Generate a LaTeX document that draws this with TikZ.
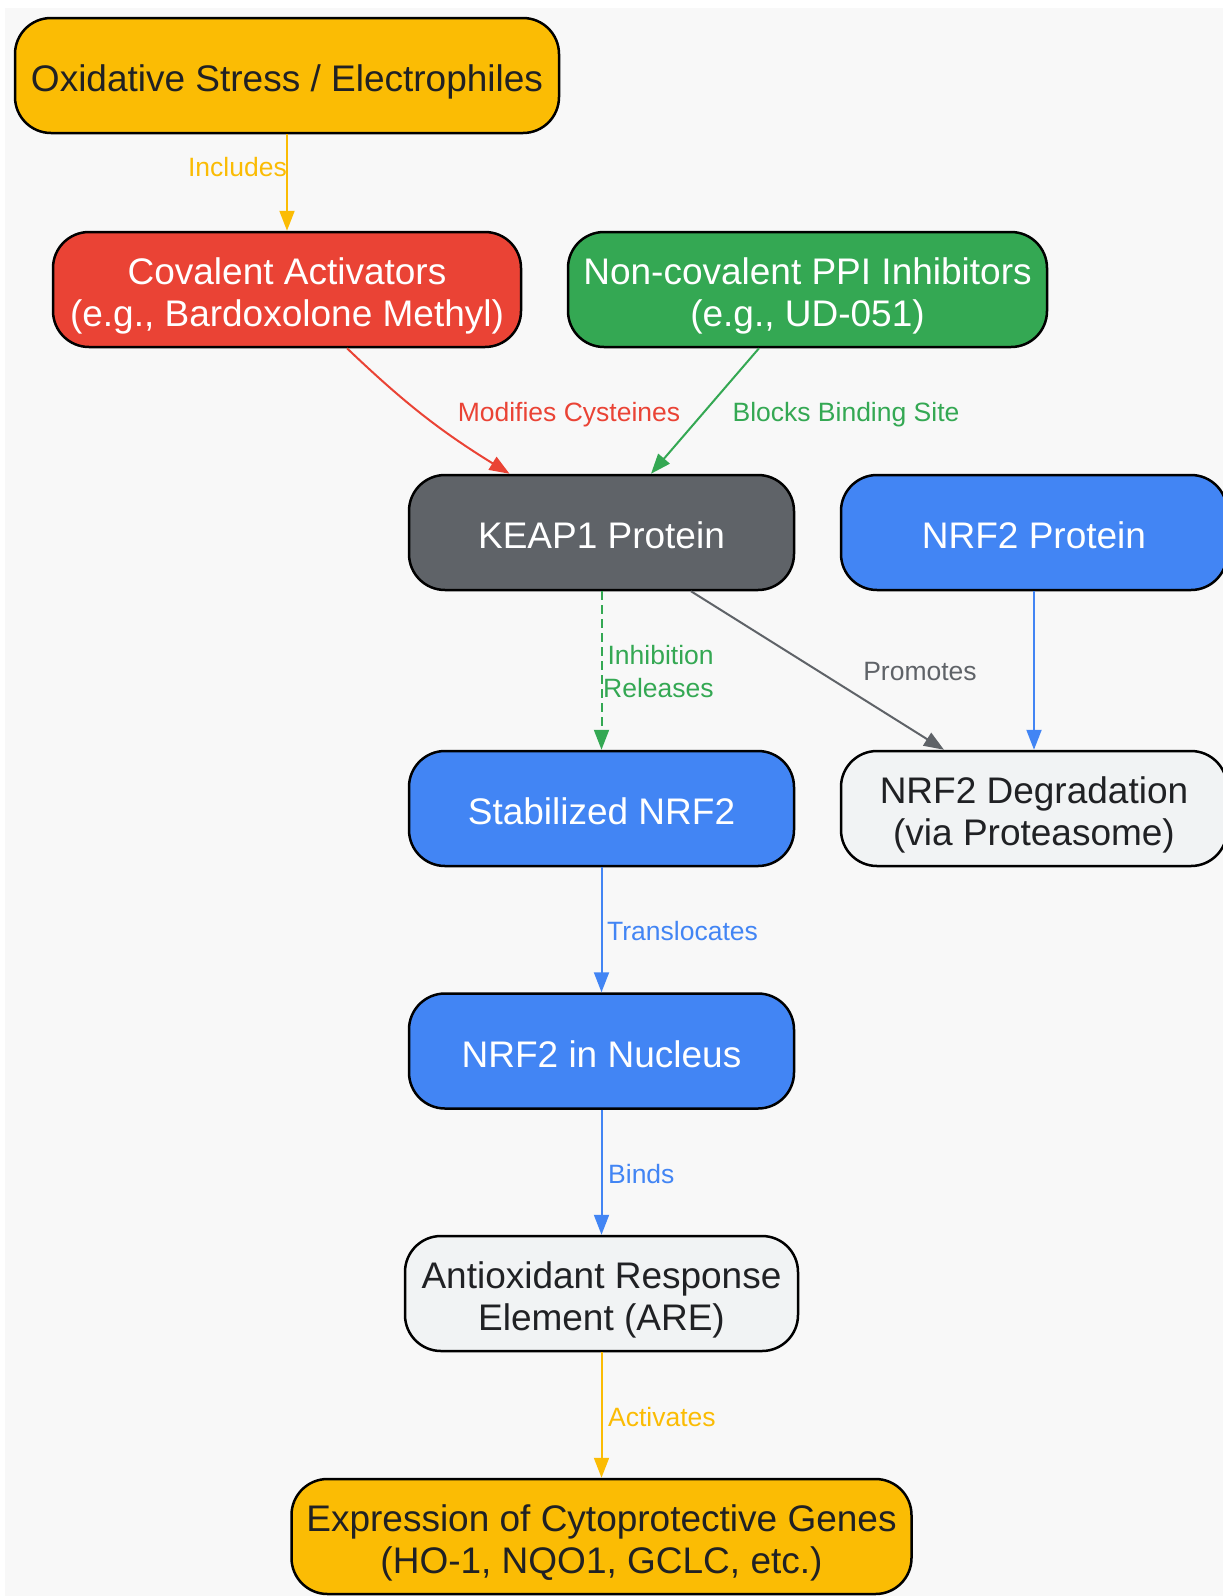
\documentclass[tikz,border=0pt]{standalone}
\usepackage{fontspec}
\setmainfont{Liberation Sans}
\usepackage{xcolor}
\usetikzlibrary{arrows.meta, positioning}

\definecolor{gyellow}{HTML}{FBBC04}
\definecolor{gred}{HTML}{EA4335}
\definecolor{ggreen}{HTML}{34A853}
\definecolor{gblue}{HTML}{4285F4}
\definecolor{ggray}{HTML}{5F6368}
\definecolor{glight}{HTML}{F1F3F4}
\definecolor{gback}{HTML}{F8F8F8}
\definecolor{gtext}{HTML}{202124}

\begin{document}
\begin{tikzpicture}[x=1pt, y=-1pt,
    box/.style={draw=black, line width=2.5pt, rounded corners=36pt, minimum height=115pt,
        inner sep=0pt, align=center, text height=40pt, text depth=8pt, font=\fontsize{37}{42}\selectfont},
    twoline/.style={text height=81pt},
    lbl/.style={inner sep=0pt, font=\fontsize{26.5}{33}\selectfont},
    arr/.style={line width=2pt, -{Triangle[length=20pt, width=15pt]}}]
    % Page and background
    \useasboundingbox (0,0) rectangle (1223,1596);
    \fill[white] (0,0) rectangle (1223,1596);
    \fill[gback] (5,8) rectangle (1223,1596);

    % Nodes
    \node[box, fill=gyellow, text=gtext, minimum width=544pt] (ox) at (287,75.5) {Oxidative Stress / Electrophiles};
    \node[box, twoline, fill=gred, text=white, minimum width=468pt] (cov) at (287,289.5) {Covalent Activators\\(e.g., Bardoxolone Methyl)};
    \node[box, twoline, fill=ggreen, text=white, minimum width=479pt] (ncov) at (807.5,289.5) {Non-covalent PPI Inhibitors\\(e.g., UD-051)};
    \node[box, fill=ggray, text=white, minimum width=385pt] (keap) at (601.5,532.5) {KEAP1 Protein};
    \node[box, fill=gblue, text=white, minimum width=386pt] (nrf) at (1034,532.5) {NRF2 Protein};
    \node[box, fill=gblue, text=white, minimum width=385pt] (stab) at (601.5,808.5) {Stabilized NRF2};
    \node[box, twoline, fill=glight, text=gtext, minimum width=386pt] (deg) at (1034,808.5) {NRF2 Degradation\\(via Proteasome)};
    \node[box, fill=gblue, text=white, minimum width=385pt] (nuc) at (601.5,1051) {NRF2 in Nucleus};
    \node[box, twoline, fill=glight, text=gtext, minimum width=393pt] (are) at (601.5,1293.5) {Antioxidant Response\\Element (ARE)};
    \node[box, twoline, fill=gyellow, text=gtext, minimum width=620pt] (expr) at (601.5,1536.5) {Expression of Cytoprotective Genes\\(HO-1, NQO1, GCLC, etc.)};

    % Connectors
    \draw[arr, gyellow] (ox) -- (cov);
    \draw[arr, gred] ([xshift=60pt]cov.south) to[bend right=6] ([xshift=-92pt]keap.north);
    \draw[arr, ggreen] ([xshift=-48.5pt]ncov.south) -- ([xshift=49.5pt]keap.north);
    \draw[arr, ggreen, dash pattern=on 9pt off 5pt] (keap) -- (stab);
    \draw[arr, ggray] ([xshift=89.5pt]keap.south) -- ([xshift=-90pt]deg.north);
    \draw[arr, gblue] (nrf) -- (deg);
    \draw[arr, gblue] (stab) -- (nuc);
    \draw[arr, gblue] (nuc) -- (are);
    \draw[arr, gyellow] (are) -- (expr);

    % Connector labels
    \node[lbl, text=gyellow, anchor=east] (lincl) at (287,167) {Includes};
    \node[lbl, text=gred] (lmod) at (569,415) {Modifies Cysteines};
    \node[lbl, text=ggreen] (lblock) at (846,415) {Blocks Binding Site};
    \node[lbl, text=ggreen, anchor=west, align=right] (linh) at (603,671.5) {Inhibition\\Releases};
    \node[lbl, text=ggray] (lprom) at (920,672) {Promotes};
    \node[lbl, text=gblue, anchor=west] (ltrans) at (607,931) {Translocates};
    \node[lbl, text=gblue, anchor=west] (lbind) at (608,1174) {Binds};
    \node[lbl, text=gyellow, anchor=west] (lact) at (608,1417) {Activates};
\end{tikzpicture}
\end{document}
